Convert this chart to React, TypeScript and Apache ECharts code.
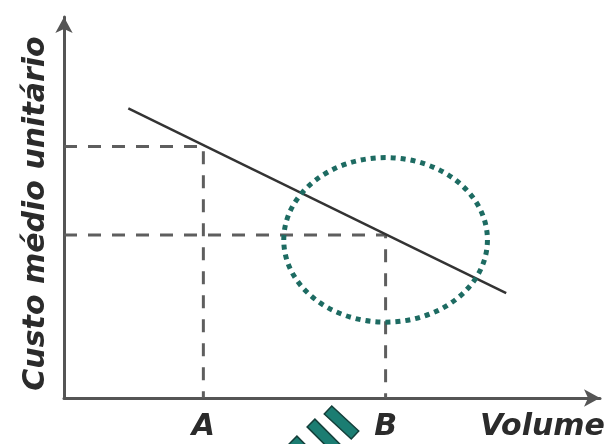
import { useEffect, useRef } from "react";
import * as echarts from "echarts";

const curveX = [12, 82.5];
const curveY = [76, 27.5];
const markerNames = ["A", "B"];
const markerX = [26, 60];
const markerY = [66, 42.8];
const ellipseCenter = [60, 41.5];
const ellipseRadius = [19, 21.6];
const xAxisName = "Volume";
const yAxisName = "Custo médio unitário";

function strip(p: number[], q: number[], hw: number) {
  const dx = q[0] - p[0];
  const dy = q[1] - p[1];
  const len = Math.hypot(dx, dy);
  const nx = (dy / len) * hw;
  const ny = (-dx / len) * hw;
  return [
    [p[0] + nx, p[1] + ny],
    [q[0] + nx, q[1] + ny],
    [q[0] - nx, q[1] - ny],
    [p[0] - nx, p[1] - ny],
  ];
}

export default function App() {
  const ref = useRef<HTMLDivElement>(null);
  useEffect(() => {
    const chart = echarts.init(ref.current!, null, { renderer: "svg" });
    const font = {
      fontFamily: "DejaVu Sans",
      fontWeight: "bold" as const,
      fontStyle: "italic" as const,
      fontSize: 30,
      lineHeight: 30,
      color: "#2b2b2b",
    };
    const axisLine = {
      symbol: ["none", "arrow"],
      symbolSize: [13, 16],
      lineStyle: { color: "#555", width: 3 },
    };
    const guideSeries = markerX.map((x, i) => ({
      type: "line",
      data: [
        [0, markerY[i]],
        [x, markerY[i]],
        [x, 0],
      ],
      symbol: "none",
      silent: true,
      lineStyle: { type: [13, 11], width: 3, color: "#5e5e5e" },
      z: 2,
    }));
    chart.setOption({
      animation: false,
      grid: { left: 64, right: 8, top: 17, bottom: 46 },
      xAxis: {
        type: "value",
        min: 0,
        max: 100,
        name: xAxisName,
        nameLocation: "end",
        nameGap: -120,
        nameTextStyle: { ...font, align: "left", verticalAlign: "top", padding: [11, 0, 0, 0] },
        axisLine,
        axisTick: { show: false },
        splitLine: { show: false },
        axisLabel: {
          customValues: markerX,
          formatter: (v: number) => markerNames[markerX.indexOf(v)] ?? "",
          margin: 11,
          ...font,
        },
      },
      yAxis: {
        type: "value",
        min: 0,
        max: 100,
        name: yAxisName,
        nameLocation: "middle",
        nameRotate: 90,
        nameGap: 16,
        nameTextStyle: { ...font, padding: [0, 12, 0, 0] },
        axisLine,
        axisTick: { show: false },
        splitLine: { show: false },
        axisLabel: { show: false },
      },
      series: [
        ...guideSeries,
        {
          type: "line",
          data: curveX.map((x, i) => [x, curveY[i]]),
          symbol: "none",
          silent: true,
          lineStyle: { color: "#333", width: 2.5 },
          z: 3,
        },
      ],
    });
    const c = chart.convertToPixel({ gridIndex: 0 }, ellipseCenter) as number[];
    const e = chart.convertToPixel({ gridIndex: 0 }, [
      ellipseCenter[0] + ellipseRadius[0],
      ellipseCenter[1] + ellipseRadius[1],
    ]) as number[];
    const stripStyle = { fill: "#1b7d72", stroke: "#143f3a", lineWidth: 1.5 };
    chart.setOption({
      graphic: [
        {
          type: "ellipse",
          shape: { cx: c[0], cy: c[1], rx: e[0] - c[0], ry: c[1] - e[1] },
          style: { fill: "none", stroke: "#1d6b62", lineWidth: 5, lineDash: [5, 5] },
          z: 10,
        },
        { type: "polygon", shape: { points: strip([328, 410], [355, 435], 5.5) }, style: stripStyle },
        { type: "polygon", shape: { points: strip([311, 423], [342, 454], 5.5) }, style: stripStyle },
        { type: "polygon", shape: { points: strip([293, 440], [324, 471], 5.5) }, style: stripStyle },
      ],
    });
    return () => chart.dispose();
  }, []);
  return <div ref={ref} style={{ position: "fixed", left: 0, top: 0, width: 608, height: 444 }} />;
}
